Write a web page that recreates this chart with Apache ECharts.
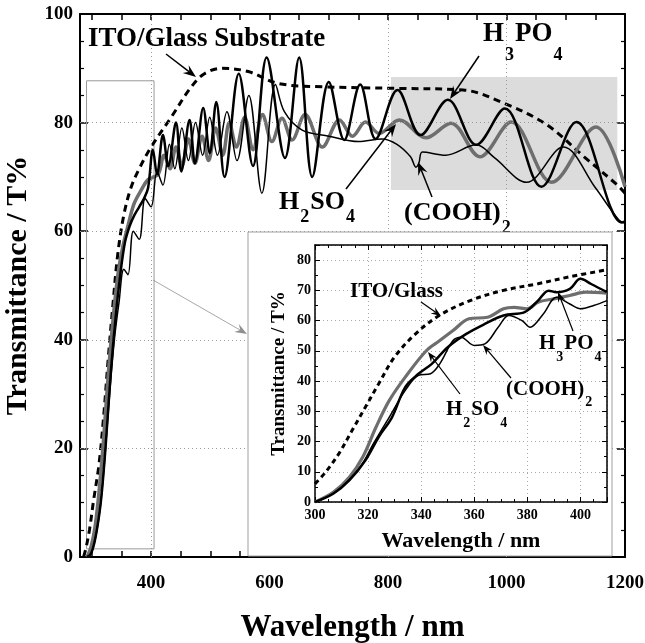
<!DOCTYPE html>
<html>
<head>
<meta charset="utf-8">
<script src="https://cdn.jsdelivr.net/npm/echarts@6/dist/echarts.min.js"></script>
<style>
html, body { margin: 0; padding: 0; background: #fff; }
#chart { width: 645px; height: 643px; }
</style>
</head>
<body>
<div id="chart"></div>
<script>
// tick values
var mainXLabels = [400, 600, 800, 1000, 1200];
var mainXTicks = [300, 350, 400, 450, 500, 550, 600, 650, 700, 750, 800, 850, 900, 950, 1000, 1050, 1100, 1150, 1200];

// main plot, [wavelength nm, T%]
var itoMain = [[286, 0], [290, 1.6], [296, 5], [303, 10.5], [312, 17], [320, 26], [328, 37], [336, 47], [344, 56],
	[354, 63], [366, 68], [380, 71.5], [400, 75.5], [434, 81], [468, 86.6], [490, 89], [520, 90], [564, 89.4],
	[615, 87.2], [689, 86.6], [819, 86.3], [927, 86], [995, 83.6], [1068, 79.6], [1131, 73.7], [1187, 68.5], [1200, 67]];

var h3po4Main = [[292, 0], [298, 0.5], [304, 2.5], [310, 6], [316, 11], [323, 20], [332, 34], [340, 44], [348, 52],
	[356, 58], [364, 61], [372, 63], [380, 64.5], [388, 66], [395, 68], [403, 75], [410, 70.5], [420, 77.7],
	[429, 72], [442, 80], [451, 71], [465, 80.5], [474, 72.5], [488, 82.7], [499, 74.4], [510, 83.8], [524, 70],
	[548, 89], [572, 72], [595, 92], [626, 73.5], [650, 92], [672, 70], [700, 87.5], [726, 76.8], [753, 87],
	[779, 77], [816, 86], [855, 77.7], [901, 84.2], [949, 75.9], [997, 82.6], [1059, 68.2], [1118, 80.1],
	[1195, 61.6], [1200, 61.8]];

var h2so4Main = [[292, 0], [299, 2], [306, 6], [313, 13], [320, 22], [328, 34], [336, 44], [344, 52], [352, 57],
	[361, 61], [371, 65], [383, 67.5], [395, 69.5], [412, 70.5], [422, 74], [432, 71.5], [442, 75.5], [452, 72],
	[463, 77], [474, 72.5], [486, 77.5], [497, 73], [509, 79], [521, 74], [532, 80], [544, 75.5], [558, 81],
	[572, 75], [588, 81.5], [604, 76.5], [621, 80.8], [638, 76.8], [660, 81.5], [689, 75.5], [718, 80.5],
	[740, 77.5], [762, 80.1], [785, 78], [819, 80.5], [864, 77.2], [906, 79.9], [955, 73.7], [1008, 80.1],
	[1076, 69], [1151, 79.2], [1200, 68.2]];

var coohMain = [[293, 0], [300, 1], [307, 4], [314, 9], [321, 17], [330, 30], [338, 40], [346, 47], [354, 53],
	[361, 52], [370, 60], [380, 58.5], [390, 66], [400, 64.5], [410, 71], [420, 68.5], [431, 76], [440, 71.5],
	[452, 79], [463, 73], [475, 80], [487, 74], [499, 81], [512, 74], [528, 82], [545, 73], [565, 85], [587, 67],
	[610, 87], [625, 82], [655, 78.6], [700, 77.5], [750, 76.5], [790, 77], [815, 76], [838, 73.7], [847, 71.8],
	[852, 72.5], [858, 74.6], [897, 74], [949, 75.9], [980, 73.5], [1034, 69], [1096, 75.5], [1150, 68],
	[1190, 62], [1200, 61.5]];

// inset, 300-410 nm
var itoInset = [[300, 6], [304, 9.9], [309, 16], [314, 23.7], [319, 31.4], [324, 39.1], [330, 48], [338, 55.7],
	[347, 61.8], [359, 66.8], [371, 70], [384, 72.2], [396, 74.5], [410, 76.8]];

var h3po4Inset = [[300, 0], [307, 2.8], [313, 7.2], [319, 13.8], [324, 21.5], [329, 28], [334, 38], [339, 42.4],
	[344, 45.7], [350, 51.2], [357, 55.6], [364, 58.9], [371, 61.7], [379, 62.8], [384, 66.6], [388, 69.9],
	[391, 69.4], [396, 70.5], [400, 73.8], [404, 72.1], [410, 69.4]];

var h2so4Inset = [[300, 0], [307, 3.3], [313, 8.3], [318, 14.9], [323, 24.8], [328, 33.6], [334, 41.3], [342, 50.1],
	[347, 53.4], [352, 56.7], [358, 60.6], [365, 61.1], [371, 63.9], [375, 64.4], [380, 63.9], [384, 66.1],
	[390, 67.2], [396, 68.3], [402, 69.4], [410, 69.1]];

var coohInset = [[300, 0], [308, 3.5], [317, 11.6], [322, 19.3], [328, 28.1], [334, 36.9], [339, 41.9], [343.5, 42.4],
	[347, 45.7], [352, 53.4], [355, 54.5], [360, 51.8], [364, 52.3], [369, 57.8], [373, 61.7], [378, 60],
	[381, 57.8], [386, 62.2], [391, 67.7], [396, 65.5], [400, 63.9], [405, 65], [410, 66.6]];

var serif = '"Liberation Serif", "DejaVu Serif", serif';
var grey = '#6e6e6e';

var chart = echarts.init(document.getElementById('chart'));

// width of text for placing subscripts
var ctx = document.createElement('canvas').getContext('2d');
function textWidth(t, size) {
	ctx.font = 'bold ' + size + 'px ' + serif;
	return ctx.measureText(t).width;
}

// chemical label: parts [text, isSub]
function chem(parts, x, y, size, sub, drop, z) {
	var out = [];
	parts.forEach(function(p) {
		var s = p[1] ? sub : size;
		out.push({
			type : 'text',
			x : x,
			y : p[1] ? y + drop : y,
			z : z,
			style : {
				text : p[0],
				font : 'bold ' + s + 'px ' + serif,
				fill : '#000',
				textVerticalAlign : 'middle'
			}
		});
		x += textWidth(p[0], s) + 1;
	});
	return out;
}

function arrow(x1, y1, x2, y2, color, w, head, z) {
	var a = Math.atan2(y2 - y1, x2 - x1);
	var L = head, W = head * 0.38;
	var bx = x2 - L * Math.cos(a), by = y2 - L * Math.sin(a);
	var nx = x2 - L * 0.65 * Math.cos(a), ny = y2 - L * 0.65 * Math.sin(a);
	var px = -Math.sin(a) * W, py = Math.cos(a) * W;
	return [ {
		type : 'line',
		z : z,
		shape : { x1 : x1, y1 : y1, x2 : nx, y2 : ny },
		style : { stroke : color, lineWidth : w }
	}, {
		type : 'polygon',
		z : z,
		shape : { points : [ [ x2, y2 ], [ bx + px, by + py ], [ nx, ny ], [ bx - px, by - py ] ] },
		style : { fill : color }
	} ];
}

var graphics = [];
// inset frame
graphics.push({
	type : 'rect',
	z : 10,
	shape : { x : 248, y : 232, width : 364, height : 324 },
	style : { fill : '#fff', stroke : '#a0a0a0', lineWidth : 1 }
});
graphics = graphics.concat(arrow(153, 280, 247, 334, '#909090', 0.8, 12, 11));

// main labels
graphics.push({
	type : 'text', x : 88, y : 39, z : 8,
	style : { text : 'ITO/Glass Substrate', font : 'bold 27px ' + serif, fill : '#000', textVerticalAlign : 'middle' }
});
graphics = graphics.concat(arrow(166, 54, 196, 77, '#000', 1.5, 13, 8));
graphics = graphics.concat(chem([ [ 'H', 0 ], [ '3', 1 ], [ 'PO', 0 ], [ '4', 1 ] ], 483, 34, 27, 18, 21, 8));
graphics = graphics.concat(arrow(479, 56, 450, 99, '#000', 1.5, 13, 8));
graphics = graphics.concat(chem([ [ 'H', 0 ], [ '2', 1 ], [ 'SO', 0 ], [ '4', 1 ] ], 279, 202, 26, 18, 15, 8));
graphics = graphics.concat(arrow(346, 189, 396, 124, '#000', 1.5, 13, 8));
graphics = graphics.concat(chem([ [ '(COOH)', 0 ], [ '2', 1 ] ], 404, 213, 26, 18, 15, 8));
graphics = graphics.concat(arrow(432, 197, 418, 162, '#000', 1.5, 13, 8));

// inset labels
graphics.push({
	type : 'text', x : 350, y : 292, z : 30,
	style : { text : 'ITO/Glass', font : 'bold 21px ' + serif, fill : '#000', textVerticalAlign : 'middle' }
});
graphics = graphics.concat(arrow(421, 302, 441, 316, '#000', 1.2, 10, 30));
graphics = graphics.concat(chem([ [ 'H', 0 ], [ '3', 1 ], [ 'PO', 0 ], [ '4', 1 ] ], 539, 344, 21, 14, 13, 30));
graphics = graphics.concat(arrow(573, 331, 558, 292, '#000', 1.2, 10, 30));
graphics = graphics.concat(chem([ [ '(COOH)', 0 ], [ '2', 1 ] ], 506, 390, 21, 14, 12, 30));
graphics = graphics.concat(arrow(511, 378, 483, 345, '#000', 1.2, 10, 30));
graphics = graphics.concat(chem([ [ 'H', 0 ], [ '2', 1 ], [ 'SO', 0 ], [ '4', 1 ] ], 446, 410, 21, 14, 13, 30));
graphics = graphics.concat(arrow(460, 394, 428, 352, '#000', 1.2, 10, 30));

function plain(v) {
	return String(v);
}

function mainX(pos, labels) {
	return {
		type : 'value', gridIndex : 0, position : pos, min : 280, max : 1200,
		name : labels ? 'Wavelength / nm' : '',
		nameLocation : 'middle', nameGap : 55,
		nameTextStyle : { fontFamily : serif, fontWeight : 'bold', fontSize : 31, color : '#000' },
		axisLine : { show : true, onZero : false, lineStyle : { color : '#000', width : 2 } },
		axisTick : { show : true, inside : true, length : 6, customValues : mainXTicks, lineStyle : { color : '#000', width : 1.5 } },
		axisLabel : { show : labels, customValues : mainXLabels, formatter : plain, margin : 17, fontSize : 19, fontFamily : serif, fontWeight : 'bold', color : '#000' },
		splitLine : { show : false }
	};
}
function mainY(pos, labels) {
	return {
		type : 'value', gridIndex : 0, position : pos, min : 0, max : 100, interval : 20,
		name : labels ? 'Transmittance / T%' : '',
		nameLocation : 'middle', nameGap : 47, nameMoveOverlap : false,
		nameTextStyle : { fontFamily : serif, fontWeight : 'bold', fontSize : 30, color : '#000' },
		axisLine : { show : true, onZero : false, lineStyle : { color : '#000', width : 2 } },
		axisTick : { show : true, inside : true, length : 8, lineStyle : { color : '#000', width : 1.5 } },
		minorTick : { show : true, splitNumber : 4, length : 4, lineStyle : { color : '#000', width : 1.2 } },
		axisLabel : { show : labels, formatter : plain, margin : 7, fontSize : 19, fontFamily : serif, fontWeight : 'bold', color : '#000' },
		splitLine : { show : false }
	};
}
function insetX(pos, labels) {
	return {
		type : 'value', gridIndex : 1, position : pos, min : 300, max : 410, interval : 20, z : 20,
		name : labels ? 'Wavelength / nm' : '',
		nameLocation : 'middle', nameGap : 28,
		nameTextStyle : { fontFamily : serif, fontWeight : 'bold', fontSize : 22, color : '#000' },
		axisLine : { show : true, onZero : false, lineStyle : { color : '#000', width : 1.5 } },
		axisTick : { show : true, inside : true, length : 5, lineStyle : { color : '#000', width : 1 } },
		minorTick : { show : true, splitNumber : 4, length : 3, lineStyle : { color : '#000', width : 1 } },
		axisLabel : { show : labels, showMaxLabel : false, margin : 6, fontSize : 14, fontFamily : serif, fontWeight : 'bold', color : '#000' },
		splitLine : { show : labels, lineStyle : { color : '#aaa', type : [ 1, 3 ], width : 1 } }
	};
}
function insetY(pos, labels) {
	return {
		type : 'value', gridIndex : 1, position : pos, min : 0, max : 85, interval : 10, z : 20,
		name : labels ? 'Transmittance / T%' : '',
		nameLocation : 'middle', nameGap : 26,
		nameTextStyle : { fontFamily : serif, fontWeight : 'bold', fontSize : 19, color : '#000' },
		axisLine : { show : true, onZero : false, lineStyle : { color : '#000', width : 1.5 } },
		axisTick : { show : true, inside : true, length : 5, lineStyle : { color : '#000', width : 1 } },
		minorTick : { show : true, splitNumber : 2, length : 3, lineStyle : { color : '#000', width : 1 } },
		axisLabel : { show : labels, showMaxLabel : false, margin : 4, fontSize : 14, fontFamily : serif, fontWeight : 'bold', color : '#000' },
		splitLine : { show : labels, lineStyle : { color : '#aaa', type : [ 1, 3 ], width : 1 } }
	};
}

function curve(name, data, color, width, dash, xi, yi, z) {
	return {
		name : name, type : 'line', data : data, xAxisIndex : xi, yAxisIndex : yi,
		smooth : 0.35, showSymbol : false, symbol : 'none', z : z, clip : true, silent : true,
		lineStyle : { color : color, width : width, type : dash || 'solid' }
	};
}

var option = {
	animation : false,
	backgroundColor : '#fff',
	grid : [
		{ left : 80, right : 20, top : 14, bottom : 86, outerBoundsMode : 'none', containLabel : false },
		{ left : 315, right : 38, top : 245, bottom : 141, outerBoundsMode : 'none', containLabel : false }
	],
	xAxis : [ mainX('bottom', true), mainX('top', false), insetX('bottom', true), insetX('top', false) ],
	yAxis : [ mainY('left', true), mainY('right', false), insetY('left', true), insetY('right', false) ],
	graphic : graphics,
	series : [
		{
			type : 'line', data : [], xAxisIndex : 0, yAxisIndex : 0, z : 1, silent : true,
			markArea : {
				silent : true,
				data : [
					[ { xAxis : 805, yAxis : 67.6, itemStyle : { color : '#dcdcdc' } }, { xAxis : 1187, yAxis : 88.4 } ],
					[ { xAxis : 291, yAxis : 1.5, itemStyle : { color : 'rgba(0,0,0,0)', borderColor : '#999', borderWidth : 1 } }, { xAxis : 405, yAxis : 87.7 } ]
				]
			}
		},
		{
			type : 'line', data : [], xAxisIndex : 0, yAxisIndex : 0, z : 2, silent : true,
			markLine : {
				silent : true, symbol : 'none', label : { show : false },
				lineStyle : { color : '#999', type : [ 1, 3 ], width : 1 },
				data : [ { xAxis : 400 }, { xAxis : 800 }, { xAxis : 1000 }, { yAxis : 20 }, { yAxis : 40 }, { yAxis : 60 }, { yAxis : 80 } ]
			}
		},
		curve('ITO/Glass Substrate', itoMain, '#000', 3, [ 7, 5 ], 0, 0, 3),
		curve('H2SO4', h2so4Main, grey, 3.5, null, 0, 0, 4),
		curve('(COOH)2', coohMain, '#000', 1.5, null, 0, 0, 5),
		curve('H3PO4', h3po4Main, '#000', 2.5, null, 0, 0, 6),
		curve('ITO/Glass', itoInset, '#000', 3, [ 5, 4 ], 2, 2, 21),
		curve('H2SO4 inset', h2so4Inset, grey, 3.2, null, 2, 2, 22),
		curve('(COOH)2 inset', coohInset, '#000', 1.5, null, 2, 2, 23),
		curve('H3PO4 inset', h3po4Inset, '#000', 2.5, null, 2, 2, 24)
	]
};

chart.setOption(option);
</script>
</body>
</html>
